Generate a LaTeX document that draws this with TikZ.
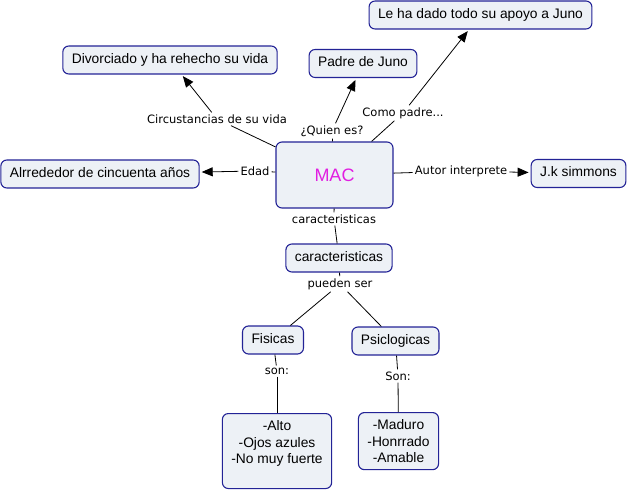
\documentclass[tikz,border=0pt]{standalone}
\usepackage{fontspec}
\setmainfont{Liberation Sans}
\newfontfamily\linkfont{DejaVu Sans}
\usetikzlibrary{arrows.meta}

\definecolor{cmapborder}{RGB}{35,35,150}
\definecolor{cmapfill}{RGB}{237,241,246}
\definecolor{macpink}{RGB}{225,30,225}

\tikzset{
  conceptbase/.style={draw=cmapborder, fill=cmapfill, line width=1.1pt, rounded corners=6pt,
    inner xsep=9pt, font=\fontsize{13.8}{16.5}\selectfont},
  concept/.style={conceptbase, inner ysep=7.5pt, text height=10pt, text depth=3pt},
  conceptlist/.style={conceptbase, inner ysep=7pt, align=center},
  linklabel/.style={fill=white, inner sep=2pt, font=\linkfont\fontsize{11.5}{13}\selectfont},
  link/.style={line width=0.8pt},
  arrowlink/.style={link, -{Triangle[length=11pt,width=9pt]}, shorten >=2pt}
}

\begin{document}
\begin{tikzpicture}[x=1pt, y=-1pt]
    % Canvas
    \useasboundingbox (0,0) rectangle (627,492);

    % Concepts
    \node[concept] (apoyo) at (480.5,15) {Le ha dado todo su apoyo a Juno};
    \node[concept] (divorciado) at (170,60) {Divorciado y ha rehecho su vida};
    \node[concept] (padre) at (363,63.5) {Padre de Juno};
    \node[concept, minimum width=117pt, minimum height=66pt, text=macpink,
          text height=13pt, text depth=0pt, font=\fontsize{18}{20}\selectfont] (mac) at (334.5,175) {MAC};
    \node[concept] (edadbox) at (100,174) {Alrrededor de cincuenta años};
    \node[concept] (jk) at (578.5,173.5) {J.k simmons};
    \node[concept] (caract) at (339,258) {caracteristicas};
    \node[concept] (fisicas) at (273,340) {Fisicas};
    \node[concept] (psico) at (395.5,341) {Psiclogicas};
    \node[conceptlist, anchor=north] (alto) at (277,413) {-Alto\\-Ojos azules\\-No muy fuerte\rule[-18pt]{0pt}{1pt}};
    \node[conceptlist, anchor=north] (maduro) at (398.5,412) {-Maduro\\-Honrrado\\-Amable};

    % Linking phrases
    \node[linklabel] (lcirc) at (217,119) {Circustancias de su vida};
    \node[linklabel] (lquien) at (332,131) {¿Quien es?};
    \node[linklabel] (lcomo) at (403,113) {Como padre...};
    \node[linklabel] (ledad) at (255,171) {Edad};
    \node[linklabel] (lautor) at (461,171) {Autor interprete};
    \node[linklabel] (lcarac) at (334,219) {caracteristicas};
    \node[linklabel] (lpueden) at (340,284) {pueden ser};
    \node[linklabel] (lson) at (277,371) {son:};
    \node[linklabel] (lSon) at (398,376) {Son:};

    % Connectors from MAC
    \draw[link] (mac) -- (lcirc);
    \draw[arrowlink] (lcirc) -- (divorciado);
    \draw[link] (mac) -- (lquien);
    \draw[arrowlink] (lquien) -- (padre);
    \draw[link] (mac) -- (lcomo);
    \draw[arrowlink] (lcomo) -- (apoyo);
    \draw[link] (mac) -- (ledad);
    \draw[arrowlink] (ledad) -- (edadbox);
    \draw[link] (mac) -- (lautor);
    \draw[arrowlink] (lautor) -- (jk);
    \draw[link] (mac) -- (lcarac);
    \draw[link] (lcarac) -- (caract);

    % Characteristics
    \draw[link] (caract) -- (lpueden);
    \draw[link] (lpueden) -- (fisicas);
    \draw[link] (lpueden) -- (psico);
    \draw[link] (fisicas) -- (lson);
    \draw[link] (lson) -- (alto);
    \draw[link] (psico) -- (lSon);
    \draw[link] (lSon) -- (maduro);
\end{tikzpicture}
\end{document}
